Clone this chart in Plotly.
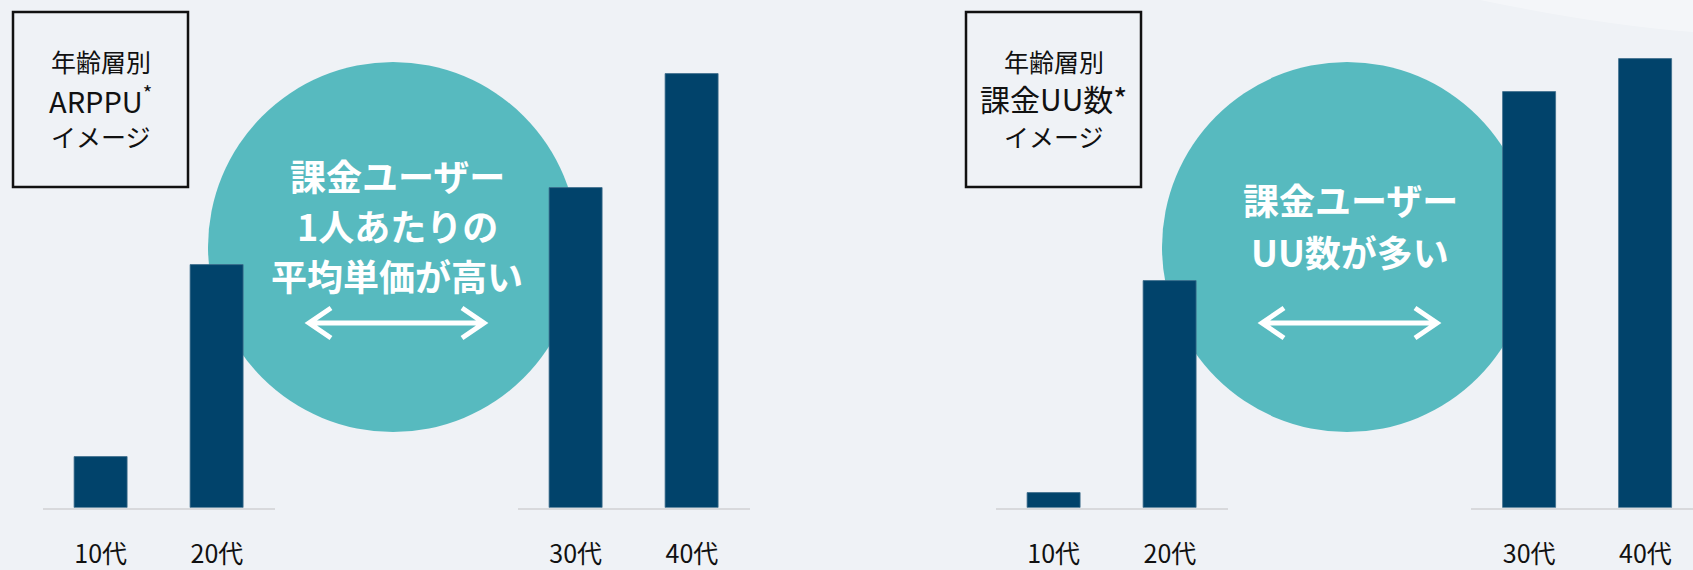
import plotly.graph_objects as go

W, H = 1693, 570

# ---- data (image values; arbitrary units 0-100) ----
ages = ["10代", "20代", "30代", "40代"]
arppu = [10.0, 47.8, 63.0, 85.5]
uu = [2.9, 44.7, 81.9, 88.3]

left_box_lines = ["年齢層別", "ARPPU<sup>*</sup>", "イメージ"]
right_box_lines = ["年齢層別", "課金UU数*", "イメージ"]
left_msg = ["課金ユーザー", "1人あたりの", "平均単価が高い"]
right_msg = ["課金ユーザー", "UU数が多い"]

BAR = "#01436B"
TEAL = "#57BABF"
BG = "#EFF2F6"
FONT = "Noto Sans CJK JP"


def fx(x):
    return x / W


def fy(y):
    return 1 - y / H


fig = go.Figure()

# four bar groups, each a pair of categories on its own axis
groups = [
    (ages[0:2], arppu[0:2], 42.5, 275.0),
    (ages[2:4], arppu[2:4], 517.5, 750.0),
    (ages[0:2], uu[0:2], 995.5, 1228.0),
    (ages[2:4], uu[2:4], 1471.0, W),
]
slot = 116.3
ydom = [fy(507.7), 1.0]
for i, (cats, vals, x0, x1) in enumerate(groups, start=1):
    xa = "x" if i == 1 else f"x{i}"
    ya = "y" if i == 1 else f"y{i}"
    fig.add_trace(go.Bar(
        x=cats, y=vals, xaxis=xa, yaxis=ya, width=0.455,
        marker=dict(color=BAR, line=dict(color="#3d6d8c", width=0.8)),
        hoverinfo="skip", showlegend=False,
    ))
    xr = [-0.5, -0.5 + (x1 - x0) / slot]
    key = "xaxis" if i == 1 else f"xaxis{i}"
    ykey = "yaxis" if i == 1 else f"yaxis{i}"
    fig.update_layout(**{
        key: dict(domain=[fx(x0), fx(x1)], anchor=ya, type="category",
                  range=xr, showgrid=False, zeroline=False, automargin=False,
                  showline=True, linecolor="#d8d9dc", linewidth=2,
                  ticks="", ticklabelstandoff=23,
                  tickfont=dict(family=FONT, size=25, color="#111111"),
                  fixedrange=True),
        ykey: dict(domain=ydom, anchor=xa, range=[0, 100], visible=False,
                   automargin=False, fixedrange=True),
    })

shapes = []
# faint decorative background band
shapes.append(dict(type="path", xref="paper", yref="paper", layer="below",
                   path=f"M{fx(1480):.5f},1 Q{fx(1600):.5f},{fy(25):.5f} 1,{fy(32):.5f} L1,1 Z",
                   fillcolor="rgba(255,255,255,0.35)", line=dict(width=0)))
# teal circles (behind bars)
for cx, cy, r in [(393, 247, 185), (1347, 247, 185)]:
    shapes.append(dict(type="circle", xref="paper", yref="paper", layer="below",
                       x0=fx(cx - r), x1=fx(cx + r), y0=fy(cy + r), y1=fy(cy - r),
                       fillcolor=TEAL, line=dict(width=0)))
# label boxes
for x0, x1 in [(13, 188), (966, 1141)]:
    shapes.append(dict(type="rect", xref="paper", yref="paper", layer="above",
                       x0=fx(x0), x1=fx(x1), y0=fy(187), y1=fy(12),
                       fillcolor="rgba(0,0,0,0)", line=dict(color="#111111", width=2.5)))


def P(x, y):
    return f"{fx(x):.5f},{fy(y):.5f}"


# double-headed arrows
for xa, xb, yy in [(309, 484, 323), (1262, 1437, 323)]:
    path = (f"M{P(xa + 22, yy - 15)}L{P(xa, yy)}L{P(xa + 22, yy + 15)}"
            f"M{P(xa, yy)}L{P(xb, yy)}"
            f"M{P(xb - 22, yy - 15)}L{P(xb, yy)}L{P(xb - 22, yy + 15)}")
    shapes.append(dict(type="path", xref="paper", yref="paper", layer="above",
                       path=path, line=dict(color="white", width=5)))

annotations = []
for cx, lines, ys, sizes in [
    (100.5, left_box_lines, [61, 99, 136], [25, 29, 25]),
    (1053.5, right_box_lines, [61, 98, 136], [25, 30, 25]),
]:
    for t, yy, s in zip(lines, ys, sizes):
        annotations.append(dict(xref="paper", yref="paper", x=fx(cx), y=fy(yy),
                                xanchor="center", yanchor="middle", showarrow=False,
                                text=t, font=dict(family=FONT, size=s, color="#111111")))
for cx, lines, ys in [(397, left_msg, [175, 225, 275]), (1350, right_msg, [199, 251])]:
    for t, yy in zip(lines, ys):
        annotations.append(dict(xref="paper", yref="paper", x=fx(cx), y=fy(yy),
                                xanchor="center", yanchor="middle", showarrow=False,
                                text=f"<b>{t}</b>",
                                font=dict(family=FONT, size=36, color="white")))

fig.update_layout(
    width=W, height=H, margin=dict(l=0, r=0, t=0, b=0, autoexpand=False),
    paper_bgcolor=BG, plot_bgcolor="rgba(0,0,0,0)",
    shapes=shapes, annotations=annotations, bargap=0,
    font=dict(family=FONT),
)

fig.write_html("out.html", config={"displayModeBar": False})
